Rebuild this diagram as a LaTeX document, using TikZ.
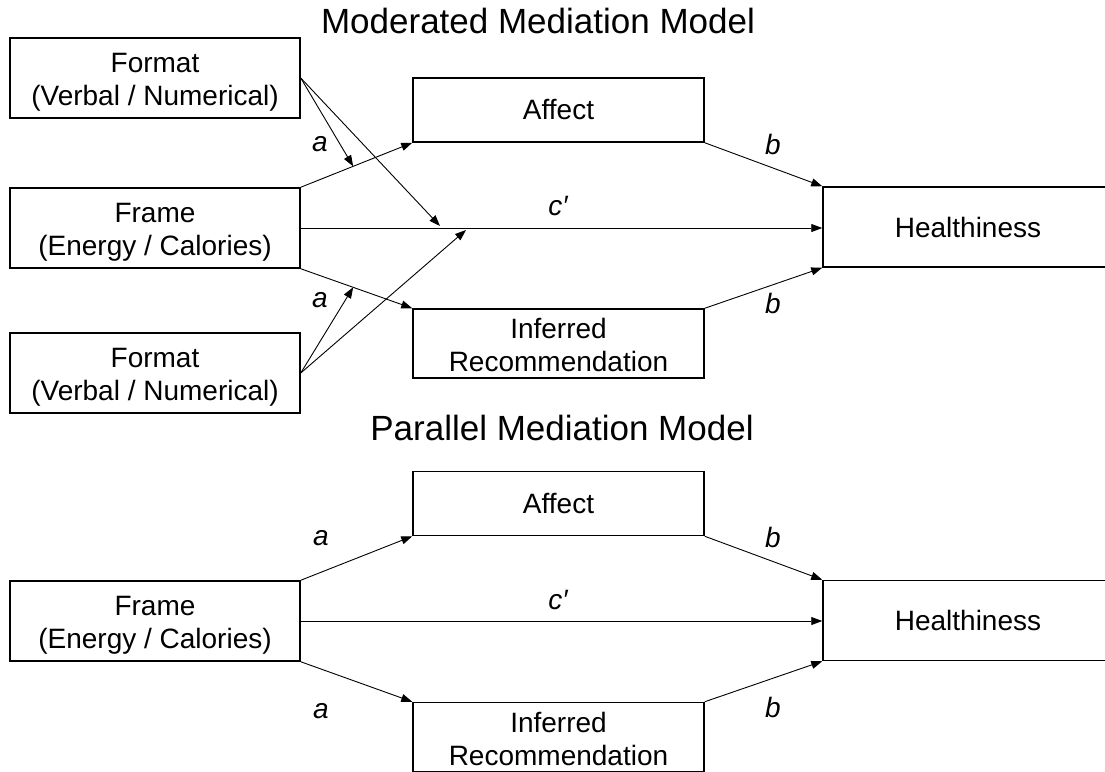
\documentclass[tikz,border=0pt]{standalone}
\usepackage{fontspec}
\setmainfont{Liberation Sans}
\usetikzlibrary{arrows.meta,calc}
% taller first line, so that two-line box texts sit a little lower
\newcommand{\firstline}[1]{\rule{0pt}{#1}}
\begin{document}
\begin{tikzpicture}[x=1pt,y=-1pt,
  box/.style={draw,line width=1.5pt,minimum width=290pt,minimum height=80pt,
    inner sep=0pt,align=center,font=\fontsize{28}{33}\selectfont},
  medbox/.style={box,minimum width=291pt,minimum height=64pt},
  infbox/.style={box,minimum width=291pt,minimum height=69pt},
  link/.style={line width=0.9pt,-{Triangle[length=11pt,width=8pt]}},
  coef/.style={inner sep=0pt,font=\fontsize{28}{33}\selectfont\itshape},
  heading/.style={anchor=base,inner sep=0pt,font=\fontsize{35}{40}\selectfont}]
\path[use as bounding box, clip] (0,0) rectangle (1105,771);

% ---------- moderated mediation model ----------
\node[heading] (t1) at (538,33) {Moderated Mediation Model};

\node[box] (fmtA)   at (155,78)  {\firstline{27pt}Format\\(Verbal / Numerical)};
\node[box] (frmA)   at (155,228) {\firstline{28pt}Frame\\(Energy / Calories)};
\node[box] (fmtB)   at (155,373) {\firstline{27pt}Format\\(Verbal / Numerical)};
\node[medbox] (affA) at (558.5,110)   {Affect};
\node[infbox] (infA) at (558.5,343.5) {\firstline{24pt}Inferred\\Recommendation};
\node[box] (hltA)   at (968,227) {Healthiness};

\draw[link] (frmA.north east) -- (affA.south west);
\draw[link] (frmA.east) -- (frmA.east -| hltA.west);
\draw[link] (frmA.south east) -- (infA.north west);
\draw[link] (affA.south east) -- (hltA.north west);
\draw[link] (infA.north east) -- (hltA.south west);

% moderation paths onto the a-paths and the direct path
\coordinate (mA) at ($(frmA.north east)!0.47!(affA.south west)$);
\coordinate (mB) at ($(frmA.south east)!0.47!(infA.north west)$);
\coordinate (mC) at (440,226);
\coordinate (mD) at (466,230);
\draw[link] (fmtA.east) -- (mA);
\draw[link] (fmtA.east) -- (mC);
\draw[link] (fmtB.east) -- (mB);
\draw[link] (fmtB.east) -- (mD);

\node[coef] (aA1) at (320,144.5) {a};
\node[coef] (aA2) at (320,300)   {a};
\node[coef] (bA1) at (773,144)   {b};
\node[coef] (bA2) at (773,303)   {b};
\node[coef] (cA)  at (558,206.5) {c′};

% ---------- parallel mediation model ----------
\node[heading] (t2) at (562,440) {Parallel Mediation Model};

\node[box] (frmB)   at (155,621) {\firstline{28pt}Frame\\(Energy / Calories)};
\node[medbox] (affB) at (558.5,503.5) {Affect};
\node[infbox] (infB) at (558.5,737)   {\firstline{24pt}Inferred\\Recommendation};
\node[box] (hltB)   at (968,620.5) {Healthiness};

\draw[link] (frmB.north east) -- (affB.south west);
\draw[link] (frmB.east) -- (frmB.east -| hltB.west);
\draw[link] (frmB.south east) -- (infB.north west);
\draw[link] (affB.south east) -- (hltB.north west);
\draw[link] (infB.north east) -- (hltB.south west);

\node[coef] (aB1) at (321,538.5) {a};
\node[coef] (aB2) at (321,711.5) {a};
\node[coef] (bB1) at (773,537)   {b};
\node[coef] (bB2) at (773,707)   {b};
\node[coef] (cB)  at (558,600)   {c′};
\end{tikzpicture}
\end{document}
